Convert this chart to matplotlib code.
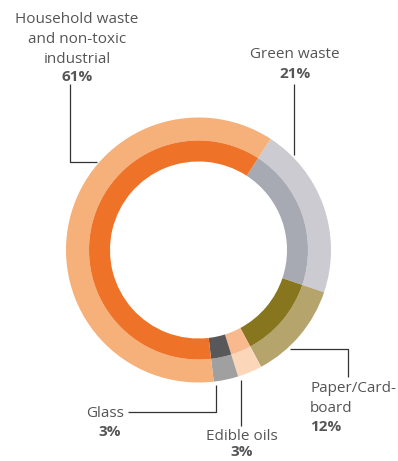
import matplotlib
matplotlib.use("Agg")
import matplotlib.pyplot as plt

W, H = 398, 461

categories = ["Green waste", "Paper/Card-\nboard", "Edible oils", "Glass",
              "Household waste\nand non-toxic\nindustrial"]
values = [21, 12, 3, 3, 61]
pct_labels = ["21%", "12%", "3%", "3%", "61%"]
outer_colors = ["#CBCBD1", "#B5A46C", "#FCD6B9", "#A0A0A0", "#F6B07A"]
inner_colors = ["#A7AAB3", "#88761E", "#F8B98E", "#58585A", "#EE7328"]

plt.rcParams['font.family'] = ['Open Sans', 'DejaVu Sans']

fig = plt.figure(figsize=(W / 100, H / 100), dpi=100)
ax = fig.add_axes([0, 0, 1, 1])

cx, cy = 198.5, H - 250
start = 90 - 33
wp = dict(linewidth=0, antialiased=True)
ax.pie(values, radius=132.5, center=(cx, cy), startangle=start, counterclock=False,
       colors=outer_colors, wedgeprops=dict(width=23, **wp))
ax.pie(values, radius=109.5, center=(cx, cy), startangle=start, counterclock=False,
       colors=inner_colors, wedgeprops=dict(width=21, **wp))

ax.set_xlim(0, W)
ax.set_ylim(0, H)
ax.set_aspect('equal')
ax.axis('off')

tc = "#555555"
lc = "#333333"
fs = 11.0

def line(xs, ys):
    ax.plot(xs, [H - y for y in ys], color=lc, lw=0.9, solid_capstyle='butt')

def label(x, baselines, name, pct, ha):
    lines = name.split("\n")
    for t, b in zip(lines, baselines[:-1]):
        ax.text(x, H - b, t, ha=ha, va='baseline', fontsize=fs, color=tc)
    ax.text(x, H - baselines[-1], pct, ha=ha, va='baseline', fontsize=fs, color=tc,
            fontweight='bold')

# Household
label(77, [23, 43, 63, 81], categories[4], pct_labels[4], 'center')
line([70, 70, 97], [84, 162, 162])

# Green waste
label(295, [58, 78], categories[0], pct_labels[0], 'center')
line([294, 294], [84, 155])

# Paper
label(310, [392, 412, 431], categories[1], pct_labels[1], 'left')
line([290, 348, 348], [349, 349, 377])

# Glass
ax.text(124, H - 417, categories[3], ha='right', va='baseline', fontsize=fs, color=tc)
ax.text(110, H - 436, pct_labels[3], ha='center', va='baseline', fontsize=fs, color=tc,
        fontweight='bold')
line([216, 216, 128], [385, 412, 412])

# Edible oils
ax.text(241.5, H - 440, categories[2], ha='center', va='baseline', fontsize=fs, color=tc)
ax.text(241.5, H - 456, pct_labels[2], ha='center', va='baseline', fontsize=fs, color=tc,
        fontweight='bold')
line([241, 241], [380, 426])

fig.savefig("out.png", dpi=100)
